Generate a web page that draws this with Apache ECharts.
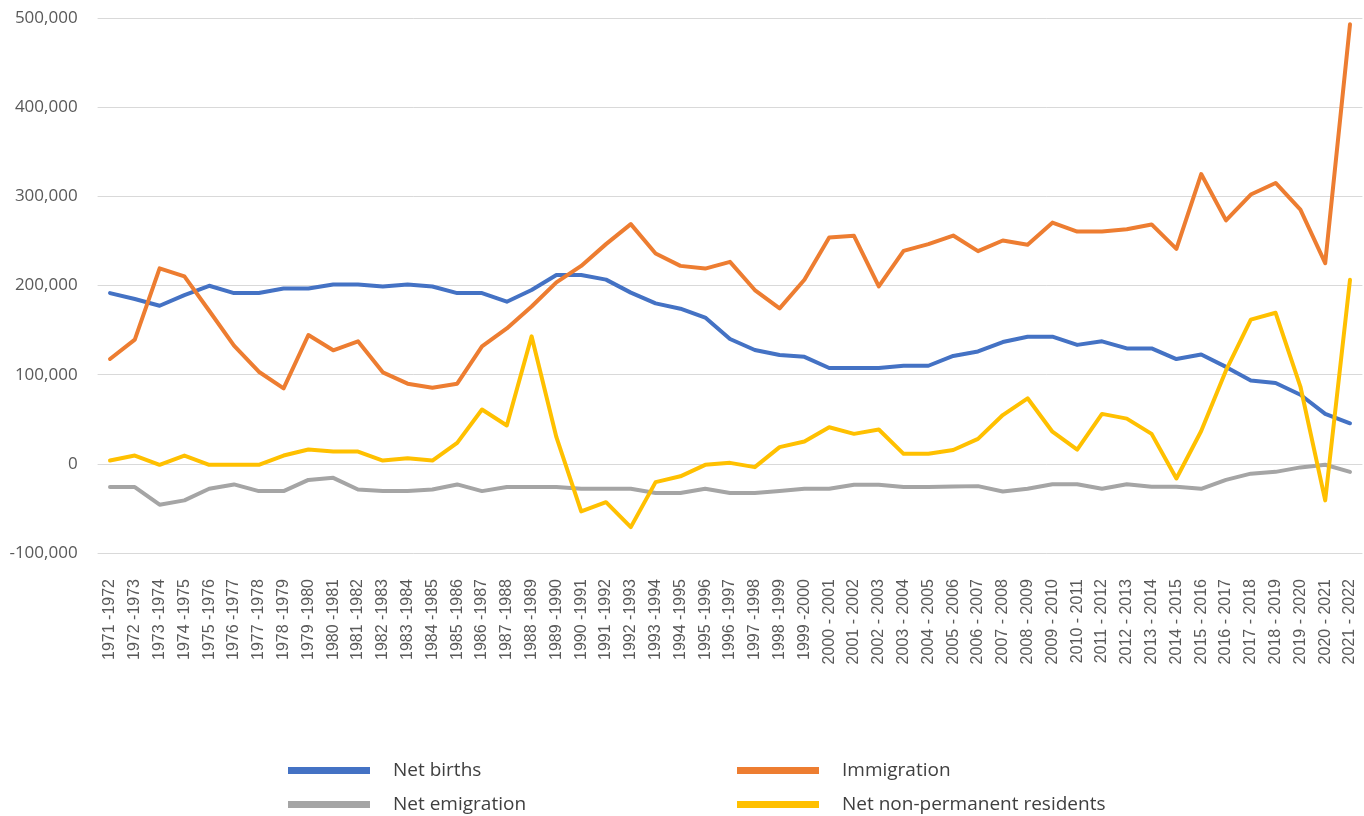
<!DOCTYPE html>
<html>
<head>
<meta charset="utf-8">
<script src="https://cdn.jsdelivr.net/npm/echarts@6/dist/echarts.min.js"></script>
<style>
html,body{margin:0;padding:0;background:#fff;}
#chart{width:1364px;height:816px;}
</style>
</head>
<body>
<div id="chart"></div>
<script>
const categories = [
  "1971 -1972","1972 -1973","1973 -1974","1974 -1975","1975 -1976","1976 -1977","1977 -1978","1978 -1979","1979 -1980","1980 -1981",
  "1981 -1982","1982 -1983","1983 -1984","1984 -1985","1985 -1986","1986 -1987","1987 -1988","1988 -1989","1989 -1990","1990 -1991",
  "1991 -1992","1992 -1993","1993 -1994","1994 -1995","1995 -1996","1996 -1997","1997 -1998","1998 -1999","1999 -2000","2000 - 2001",
  "2001 - 2002","2002 - 2003","2003 - 2004","2004 - 2005","2005 - 2006","2006 - 2007","2007 - 2008","2008 - 2009","2009 - 2010","2010 - 2011",
  "2011 - 2012","2012 - 2013","2013 - 2014","2014 - 2015","2015 - 2016","2016 - 2017","2017 - 2018","2018 - 2019","2019 - 2020","2020 - 2021",
  "2021 - 2022"
];
const netBirths = [
  191500,184800,177300,189300,199700,191500,191500,196700,196700,201200,
  201200,198900,201200,198900,191500,191500,181800,195000,211700,211700,
  206600,192000,180000,174000,164000,140000,127700,122000,120000,107500,
  107500,107500,110000,110000,121000,126000,136600,142600,142600,133400,
  137400,129400,129400,117500,122600,108700,93500,90700,77500,56000,
  45500
];
const immigration = [
  117600,139300,219200,210200,171700,132500,103300,84700,144500,127300,
  137400,102600,89900,85400,89900,131700,151900,176500,203500,222000,
  246400,268800,235900,222000,219000,226500,194900,174300,206500,253900,
  255700,199000,238900,246400,256000,238500,250500,245700,270500,260500,
  260500,263000,268500,241000,325000,273000,302000,315000,285000,225000,
  493000
];
const netEmigration = [
  -26000,-26000,-45800,-41000,-28000,-23100,-30600,-30600,-18000,-15700,
  -28800,-30600,-30600,-28800,-23100,-30600,-26000,-26000,-26000,-28000,
  -28000,-28000,-32800,-32800,-28000,-32800,-32800,-30600,-28000,-28000,
  -23500,-23500,-26000,-26000,-25500,-25000,-31000,-28000,-23000,-23000,
  -28000,-23000,-25600,-25600,-28000,-18000,-11000,-9000,-4000,-1000,
  -9000
];
const netNonPermanent = [
  3700,9300,-1100,9300,-1100,-1100,-1100,9300,16000,13800,
  13800,3700,6300,3700,23500,60900,43000,143000,29900,-53400,
  -43000,-71000,-20500,-14000,-1100,1100,-3700,18700,25000,41000,
  33600,38500,11200,11200,15500,28000,54700,73500,36000,16000,
  56000,50700,33600,-16400,36800,104700,161800,169400,86700,-41000,
  206500
];
const seriesNames = ["Net births","Immigration","Net emigration","Net non-permanent residents"];
const seriesColors = ["#4472C4","#ED7D31","#A5A5A5","#FFC000"];
const seriesData = [netBirths, immigration, netEmigration, netNonPermanent];

const chart = echarts.init(document.getElementById('chart'), null, {renderer:'canvas'});

const legendText = {
  fontFamily: "'Open Sans', sans-serif",
  fontSize: 19,
  color: '#404040',
  padding: [0,0,0,18]
};
// legend slots: [name, left, top]
const legendSlots = [
  ["Net births", 288, 761],
  ["Immigration", 737, 761],
  ["Net emigration", 288, 795],
  ["Net non-permanent residents", 737, 795]
];

const option = {
  animation: false,
  color: seriesColors,
  grid: {left: 97.6, right: 1.6, top: 18, bottom: 263, containLabel: false},
  legend: legendSlots.map(s => ({
    data: [s[0]],
    orient: 'horizontal', left: s[1], top: s[2], padding: 0,
    icon: 'rect', itemWidth: 82, itemHeight: 7,
    selectedMode: false,
    textStyle: legendText
  })),
  xAxis: {
    type: 'category',
    data: categories,
    boundaryGap: true,
    axisLine: {show: false},
    axisTick: {show: false},
    axisLabel: {
      rotate: 90, margin: 26, interval: 0,
      fontFamily: "'Liberation Sans', Arial, sans-serif",
      fontSize: 16, color: '#595959'
    }
  },
  yAxis: {
    type: 'value',
    min: -100000, max: 500000, interval: 100000,
    axisLine: {show: false},
    axisTick: {show: false},
    splitLine: {lineStyle: {color: '#D9D9D9', width: 1}},
    axisLabel: {
      margin: 20,
      fontFamily: "'Open Sans', sans-serif",
      fontSize: 17, color: '#595959'
    }
  },
  series: seriesNames.map((name, k) => ({
    name: name,
    type: 'line',
    data: seriesData[k],
    showSymbol: false,
    symbol: 'none',
    lineStyle: {width: 4, color: seriesColors[k], cap: 'round', join: 'round'},
    itemStyle: {color: seriesColors[k]},
    emphasis: {disabled: true}
  }))
};
chart.setOption(option);
</script>
</body>
</html>
